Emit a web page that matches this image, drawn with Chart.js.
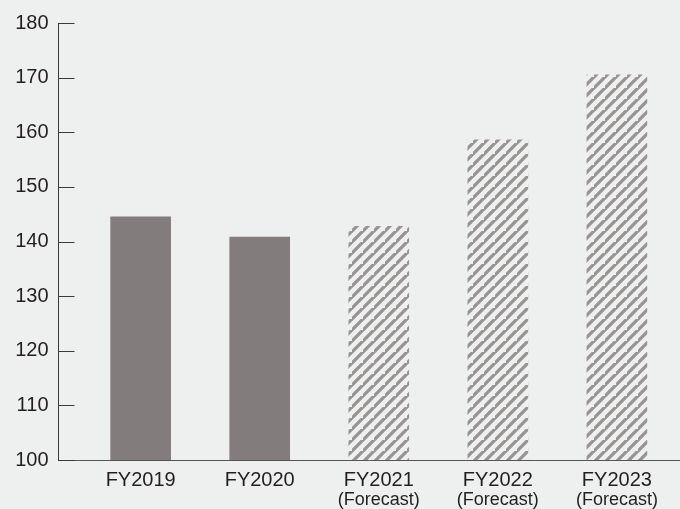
<!DOCTYPE html>
<html>
<head>
<meta charset="utf-8">
<script src="https://cdn.jsdelivr.net/npm/chart.js@4"></script>
<style>
html, body { margin:0; padding:0; background:#eef0ef; }
#wrap { width:680px; height:509px; }
</style>
</head>
<body>
<div id="wrap"><canvas id="fyChart" width="680" height="509"></canvas></div>
<script>
// ================================
// DATA
// ================================
const years = ['FY2019','FY2020','FY2021','FY2022','FY2023'];
const subLabels = ['','','(Forecast)','(Forecast)','(Forecast)'];
const values = [144.5, 140.8, 142.8, 158.6, 170.5];
const isForecast = [false, false, true, true, true];
const yTicks = [100, 110, 120, 130, 140, 150, 160, 170, 180];

// hatch for forecast bars
function makeHatch() {
  const n = 11;
  const c = document.createElement('canvas');
  c.width = n; c.height = n;
  const g = c.getContext('2d');
  g.strokeStyle = '#999494';
  g.lineWidth = 3.3;
  g.beginPath();
  g.moveTo(-2, n + 2); g.lineTo(n + 2, -2);
  g.moveTo(-n - 2, n + 2); g.lineTo(2, -2);
  g.moveTo(n - 2, 2 * n + 2); g.lineTo(2 * n + 2, n - 2);
  g.stroke();
  return g.createPattern(c, 'repeat');
}
const hatch = makeHatch();

const points = values.map((v, i) => ({x: i, y: v}));
const colors = isForecast.map(f => f ? hatch : '#827c7c');

// inward tick marks on the y axis + sub labels under the x labels
const extras = {
  id: 'extras',
  afterDraw(chart) {
    const ctx = chart.ctx;
    const y = chart.scales.y, x = chart.scales.x;
    const left = chart.chartArea.left;
    ctx.save();
    ctx.strokeStyle = '#3a3a3a';
    ctx.lineWidth = 1;
    yTicks.forEach(t => {
      const py = Math.round(y.getPixelForValue(t)) + 0.5;
      ctx.beginPath();
      ctx.moveTo(left, py);
      ctx.lineTo(left + 16, py);
      ctx.stroke();
    });
    ctx.fillStyle = '#231f20';
    ctx.font = '18px "Liberation Sans", Arial, sans-serif';
    ctx.textAlign = 'center';
    ctx.textBaseline = 'middle';
    subLabels.forEach((s, i) => {
      if (s) ctx.fillText(s, x.getPixelForValue(i), 500);
    });
    ctx.restore();
  }
};

const fyChart = new Chart(
document.getElementById('fyChart'),
{
type: 'bar',
data: {
  datasets: [{
    data: points,
    backgroundColor: colors,
    borderWidth: 0,
    barThickness: 60
  }]
},
options: {
  responsive: false,
  animation: false,
  layout: { padding: { top: 23, left: 0, right: 0, bottom: 0 } },
  plugins: { legend: {display:false}, tooltip: {enabled:false} },
  scales: {
    x: {
      type: 'linear',
      offset: false,
      min: -0.69,
      max: 4.53,
      afterFit(s) { s.height = 49; },
      grid: { display:false, drawTicks:false },
      border: { display:true, color:'#555', width:1 },
      ticks: {
        stepSize: 1,
        includeBounds: false,
        padding: 8,
        color: '#231f20',
        font: { family:'"Liberation Sans", Arial, sans-serif', size:20 },
        callback: v => years[v] ?? ''
      }
    },
    y: {
      min: 100,
      max: 180,
      afterFit(s) { s.width = 58.5; },
      grid: { display:false, drawTicks:false },
      border: { display:true, color:'#3a3a3a', width:1 },
      ticks: {
        stepSize: 10,
        padding: 10,
        color: '#231f20',
        font: { family:'"Liberation Sans", Arial, sans-serif', size:20 }
      }
    }
  }
},
plugins: [extras]
});
</script>
</body>
</html>
